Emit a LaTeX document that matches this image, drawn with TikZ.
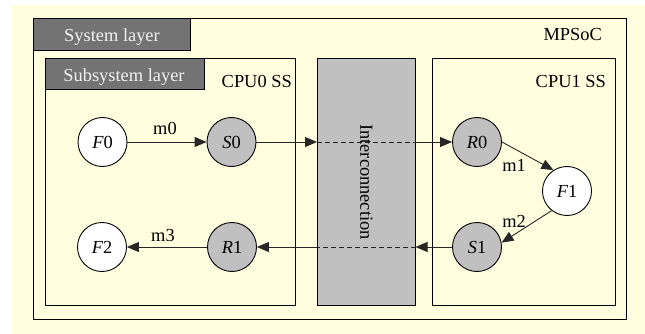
\documentclass[tikz,border=0pt]{standalone}
\usepackage{fontspec}
\setmainfont{Liberation Serif}
\usetikzlibrary{arrows.meta}

\definecolor{paper}{HTML}{FFFFE0}
\definecolor{tabgray}{HTML}{737373}
\definecolor{icgray}{HTML}{C0C0C0}
\definecolor{tabtext}{HTML}{F2F2F2}

\tikzset{
  txt/.style={font=\fontsize{18.4}{20}\selectfont, inner sep=0pt},
  frame/.style={draw=black, line width=1pt},
  tabbox/.style={frame, fill=tabgray},
  tablabel/.style={txt, text=tabtext, anchor=base},
  boxlabel/.style={txt, anchor=base east},
  task/.style={circle, draw=black, line width=0.9pt, minimum size=49pt, inner sep=0pt, txt},
  fnode/.style={task, fill=white},
  cnode/.style={task, fill=icgray},
  arr/.style={draw=black!85, line width=0.9pt, -{Triangle[length=12pt,width=10pt]}},
  link/.style={draw=black!85, line width=0.9pt},
  dashlink/.style={link, dash pattern=on 5pt off 3pt},
  msg/.style={txt, anchor=base},
}

\begin{document}
\begin{tikzpicture}[x=1pt, y=-1pt]
  \useasboundingbox (0,0) rectangle (645,334);
  \fill[paper] (12,5) rectangle (645,334);

  % MPSoC frame and its layer tab
  \draw[frame] (33.5,19) rectangle (626,319);
  \draw[tabbox] (33.5,19) rectangle (190,51);
  \node[tablabel] (syslayer) at (112,41.5) {System layer};
  \node[boxlabel] (mpsoc) at (602,41) {MPSoC};

  % CPU0 subsystem
  \draw[frame] (45,59) rectangle (295,305);
  \draw[tabbox] (45,59) rectangle (204,90);
  \node[tablabel] (sublayer) at (124,81.5) {Subsystem layer};
  \node[boxlabel] (cpu0) at (292,88) {CPU0 SS};

  % CPU1 subsystem
  \draw[frame] (432,59) rectangle (615,305);
  \node[boxlabel] (cpu1) at (606,88) {CPU1 SS};

  % Interconnection
  \node[frame, fill=icgray, minimum width=97.5pt, minimum height=246pt, inner sep=0pt]
    (ic) at (366.25,182) {};
  \node[txt, rotate=-90] (iclabel) at (ic.center) {Interconnection};

  % Tasks
  \node[fnode] (F0) at (102.5,142) {\itshape F\upshape 0};
  \node[cnode] (S0) at (231.5,142) {\itshape S\upshape 0};
  \node[cnode] (R0) at (477,142) {\itshape R\upshape 0};
  \node[fnode] (F1) at (567,191) {\itshape F\upshape 1};
  \node[cnode] (S1) at (477,247) {\itshape S\upshape 1};
  \node[cnode] (R1) at (232,247) {\itshape R\upshape 1};
  \node[fnode] (F2) at (102,247) {\itshape F\upshape 2};

  % Crossing points on the interconnection
  \coordinate (icTopW) at (ic.west |- S0.east);
  \coordinate (icTopE) at (ic.east |- S0.east);
  \coordinate (icBotE) at (ic.east |- S1.west);
  \coordinate (icBotW) at (ic.west |- S1.west);

  % Messages
  \draw[arr] (F0) -- (S0);
  \node[msg] (m0) at (165,135) {m0};
  \draw[arr] (S0) -- (icTopW);
  \draw[dashlink] (icTopW) -- (icTopE);
  \draw[arr] (icTopE) -- (R0);
  \draw[arr] (R0.east) -- (F1.123);
  \node[msg] (m1) at (514,171.5) {m1};
  \draw[arr] (F1.232) -- (S1.10);
  \node[msg] (m2) at (514,227) {m2};
  \draw[arr] (S1) -- (icBotE);
  \draw[dashlink] (icBotE) -- (icBotW);
  \draw[arr] (icBotW) -- (R1);
  \draw[arr] (R1) -- (F2);
  \node[msg] (m3) at (163,241.5) {m3};
\end{tikzpicture}
\end{document}
